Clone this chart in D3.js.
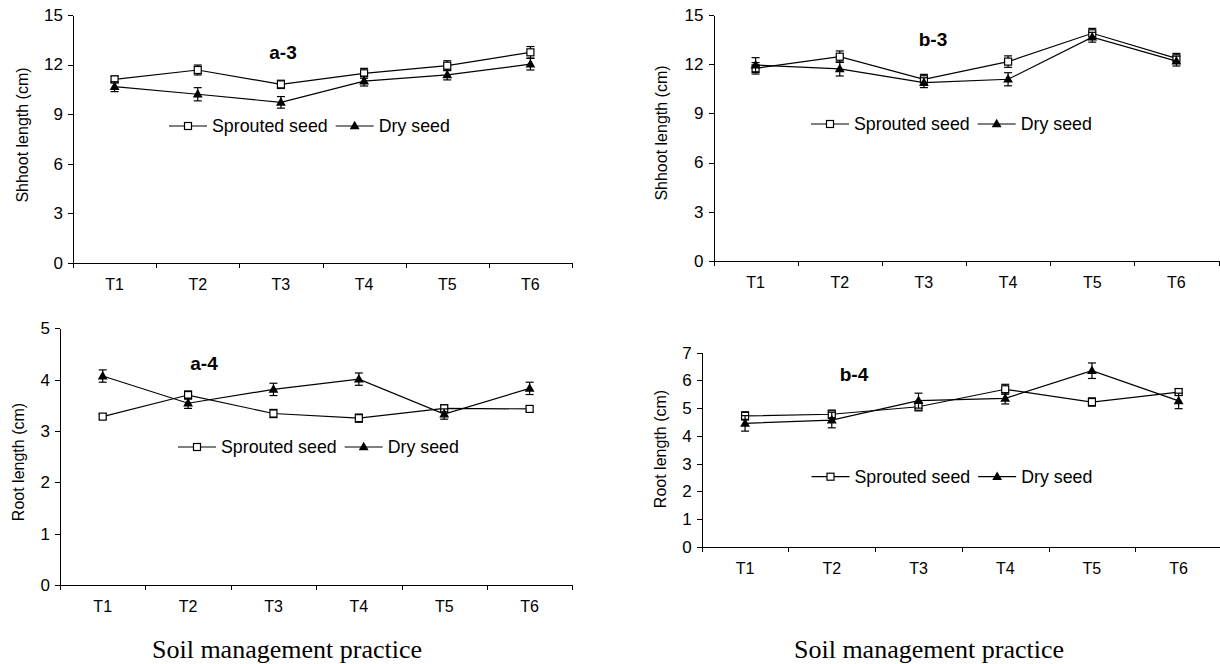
<!DOCTYPE html>
<html lang="en">
<head>
<meta charset="utf-8">
<title>Shoot and root length</title>
<script src="https://cdn.jsdelivr.net/npm/d3@7"></script>
<style>
  body { margin: 0; background: #fff; }
  .axis path, .axis line { fill: none; stroke: #000; shape-rendering: crispEdges; }
  .axis text { font-family: "Liberation Sans", Arial, sans-serif; fill: #000; }
  .lbl { font-family: "Liberation Sans", Arial, sans-serif; fill: #000; }
</style>
</head>
<body>
<script>

// categories
var treatments = ["T1", "T2", "T3", "T4", "T5", "T6"];
var seriesNames = ["Sprouted seed", "Dry seed"];

// a-3 shoot length
var a3Sprouted    = [11.10, 11.67, 10.80, 11.47, 11.93, 12.74];
var a3SproutedErr = [0.20, 0.30, 0.25, 0.30, 0.30, 0.35];
var a3Dry         = [10.66, 10.20, 9.71, 11.00, 11.37, 12.02];
var a3DryErr      = [0.30, 0.40, 0.35, 0.30, 0.30, 0.35];

// b-3 shoot length
var b3Sprouted    = [11.76, 12.47, 11.09, 12.17, 13.90, 12.37];
var b3SproutedErr = [0.35, 0.35, 0.30, 0.35, 0.30, 0.30];
var b3Dry         = [11.96, 11.72, 10.88, 11.09, 13.66, 12.20];
var b3DryErr      = [0.45, 0.43, 0.30, 0.40, 0.30, 0.30];

// a-4 root length
var a4Sprouted    = [3.28, 3.70, 3.34, 3.25, 3.44, 3.43];
var a4SproutedErr = [0.05, 0.08, 0.08, 0.08, 0.07, 0.05];
var a4Dry         = [4.07, 3.54, 3.81, 4.01, 3.33, 3.83];
var a4DryErr      = [0.12, 0.10, 0.12, 0.12, 0.10, 0.12];

// b-4 root length
var b4Sprouted    = [4.72, 4.78, 5.05, 5.68, 5.22, 5.58];
var b4SproutedErr = [0.15, 0.15, 0.15, 0.18, 0.15, 0.12];
var b4Dry         = [4.45, 4.57, 5.27, 5.35, 6.35, 5.26];
var b4DryErr      = [0.28, 0.28, 0.27, 0.20, 0.28, 0.28];

// axis ticks
var shootTicks = [0, 3, 6, 9, 12, 15];
var rootTicksA = [0, 1, 2, 3, 4, 5];
var rootTicksB = [0, 1, 2, 3, 4, 5, 6, 7];

var xTitle = "Soil management practice";

// panel layout (pixel boxes)
var panels = [
  {title: "a-3", yLabel: "Shhoot length (cm)", ticks: shootTicks,
   s: a3Sprouted, se: a3SproutedErr, d: a3Dry, de: a3DryErr,
   x0: 73, x1: 572, yTop: 15, yBottom: 262.7,
   titleX: 283, titleY: 52, legX: 169, legY: 126, ylX: 22, ylY: 135},
  {title: "b-3", yLabel: "Shhoot length (cm)", ticks: shootTicks,
   s: b3Sprouted, se: b3SproutedErr, d: b3Dry, de: b3DryErr,
   x0: 713.5, x1: 1218.5, yTop: 15.3, yBottom: 260.7,
   titleX: 933, titleY: 39, legX: 811, legY: 124, ylX: 661, ylY: 133},
  {title: "a-4", yLabel: "Root length (cm)", ticks: rootTicksA,
   s: a4Sprouted, se: a4SproutedErr, d: a4Dry, de: a4DryErr,
   x0: 60, x1: 572.3, yTop: 328.3, yBottom: 585,
   titleX: 204, titleY: 363, legX: 178, legY: 447, ylX: 18, ylY: 462},
  {title: "b-4", yLabel: "Root length (cm)", ticks: rootTicksB,
   s: b4Sprouted, se: b4SproutedErr, d: b4Dry, de: b4DryErr,
   x0: 701.7, x1: 1222, yTop: 352.7, yBottom: 546.7,
   titleX: 854, titleY: 374, legX: 811.5, legY: 476.7, ylX: 660, ylY: 449}
];

var svg = d3.select("body")
            .append("svg")
            .attr("width", 1220)
            .attr("height", 664);

var tri = d3.symbol().type(d3.symbolTriangle).size(42);

function drawMarker(g, kind, cx, cy) {
    if (kind == "s") {
        g.append("rect")
            .attr("x", cx - 3.5).attr("y", cy - 3.5)
            .attr("width", 7).attr("height", 7)
            .attr("fill", "#fff").attr("stroke", "#000").attr("stroke-width", 1.2);
    } else {
        g.append("path")
            .attr("d", tri)
            .attr("transform", "translate(" + cx + "," + (cy + 0.5) + ")")
            .attr("fill", "#000");
    }
}

function drawPanel(p) {
    var g = svg.append("g");

    var xEdge = d3.scaleLinear().domain([0, treatments.length]).range([p.x0, p.x1]);
    var xBand = d3.scaleBand().domain(treatments).range([p.x0, p.x1]);
    var y = d3.scaleLinear().domain([0, d3.max(p.ticks)]).range([p.yBottom, p.yTop]);
    var cx = function(i) { return xBand(treatments[i]) + xBand.bandwidth() / 2; };

    // y axis
    g.append("g")
        .attr("class", "axis")
        .attr("transform", "translate(" + p.x0 + ",0)")
        .call(d3.axisLeft(y).tickValues(p.ticks).tickFormat(d3.format("d"))
              .tickSize(5).tickSizeOuter(0).tickPadding(5))
        .selectAll("text").style("font-size", "17px");

    // x axis line + ticks at band edges
    g.append("g")
        .attr("class", "axis")
        .attr("transform", "translate(0," + p.yBottom + ")")
        .call(d3.axisBottom(xEdge).tickValues(d3.range(treatments.length + 1))
              .tickFormat("").tickSize(5).tickSizeOuter(0));

    // category labels
    var lab = g.append("g")
        .attr("class", "axis")
        .attr("transform", "translate(0," + p.yBottom + ")")
        .call(d3.axisBottom(xBand).tickSize(0).tickPadding(16));
    lab.select(".domain").remove();
    lab.selectAll("text").style("font-size", "16px");

    // series: sprouted then dry
    [["s", p.s, p.se], ["d", p.d, p.de]].forEach(function(sr) {
        var kind = sr[0], vals = sr[1], errs = sr[2];
        var line = d3.line()
            .x(function(d, i) { return cx(i); })
            .y(function(d) { return y(d); });
        g.append("path")
            .datum(vals)
            .attr("d", line)
            .attr("fill", "none")
            .attr("stroke", "#000")
            .attr("stroke-width", 1.2);

        vals.forEach(function(v, i) {
            var x = cx(i), lo = y(v - errs[i]), hi = y(v + errs[i]);
            g.append("line").attr("x1", x).attr("x2", x).attr("y1", lo).attr("y2", hi)
                .attr("stroke", "#000").attr("stroke-width", 1.2);
            [lo, hi].forEach(function(yy) {
                g.append("line").attr("x1", x - 4).attr("x2", x + 4).attr("y1", yy).attr("y2", yy)
                    .attr("stroke", "#000").attr("stroke-width", 1.2);
            });
            drawMarker(g, kind, x, y(v));
        });
    });

    // panel title
    g.append("text")
        .attr("class", "lbl")
        .attr("x", p.titleX).attr("y", p.titleY)
        .attr("text-anchor", "middle").attr("dominant-baseline", "central")
        .style("font-size", "19px").style("font-weight", "bold")
        .text(p.title);

    // y label
    g.append("text")
        .attr("class", "lbl")
        .attr("transform", "translate(" + p.ylX + "," + p.ylY + ") rotate(-90)")
        .attr("text-anchor", "middle").attr("dominant-baseline", "central")
        .style("font-size", "16px")
        .text(p.yLabel);

    // legend
    var lx = p.legX;
    ["s", "d"].forEach(function(kind, k) {
        g.append("line").attr("x1", lx).attr("x2", lx + 38)
            .attr("y1", p.legY).attr("y2", p.legY)
            .attr("stroke", "#000").attr("stroke-width", 1.2);
        drawMarker(g, kind, lx + 19, p.legY);
        var t = g.append("text")
            .attr("class", "lbl")
            .attr("x", lx + 43).attr("y", p.legY)
            .attr("dominant-baseline", "central")
            .style("font-size", "17.8px")
            .text(seriesNames[k]);
        lx = lx + 43 + t.node().getComputedTextLength() + 8;
    });
}

panels.forEach(drawPanel);

// shared x titles
[287, 929].forEach(function(cx) {
    svg.append("text")
        .attr("x", cx).attr("y", 658)
        .attr("text-anchor", "middle")
        .style("font-family", "'Liberation Serif', 'Times New Roman', serif")
        .style("font-size", "26px")
        .text(xTitle);
});

</script>
</body>
</html>
